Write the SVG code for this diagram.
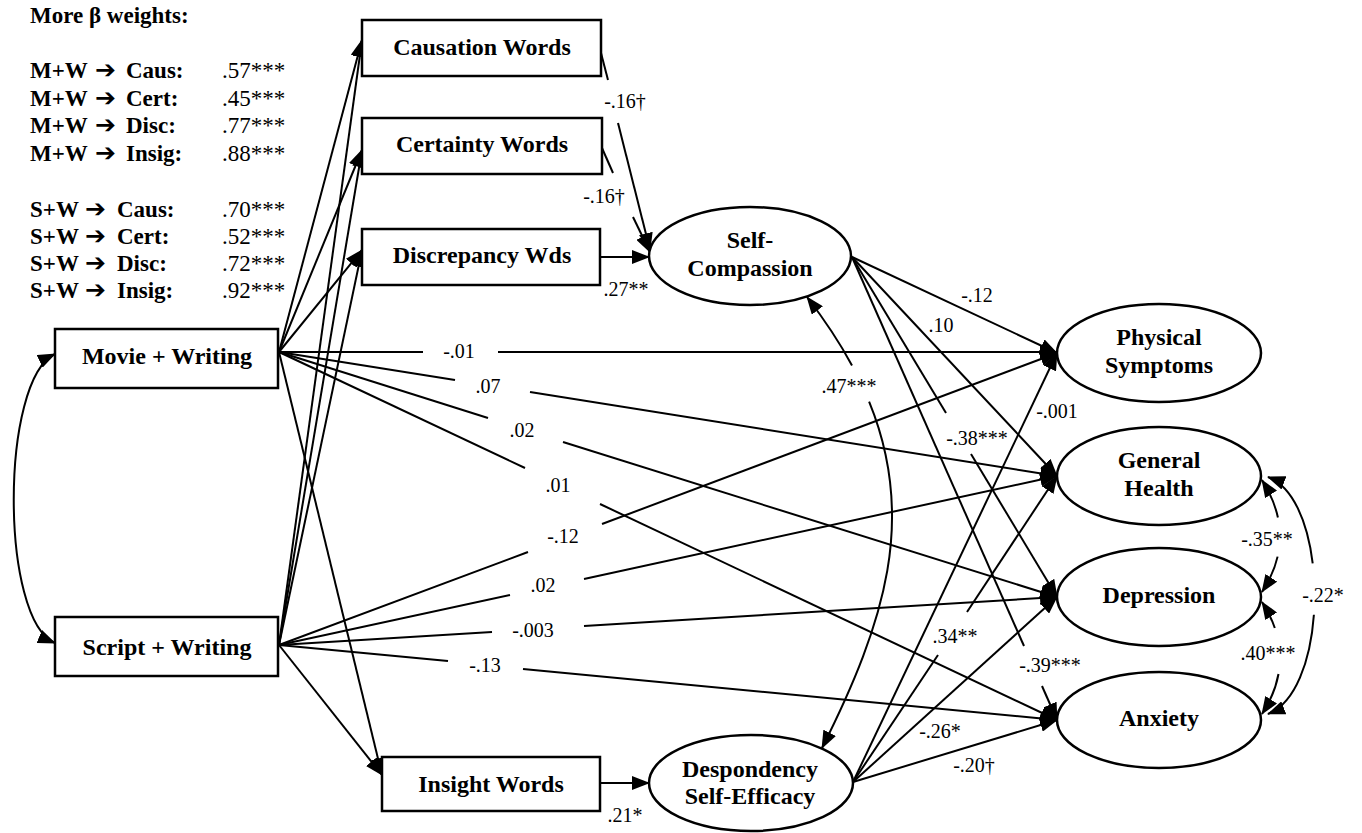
<svg xmlns="http://www.w3.org/2000/svg" width="1362" height="833" viewBox="0 0 1362 833">
<defs>
<marker id="ah" markerUnits="userSpaceOnUse" viewBox="0 0 18 14" markerWidth="18" markerHeight="14" refX="17" refY="7" orient="auto-start-reverse">
<path d="M0,0 L18,7 L0,14 z" fill="#000"/>
</marker>
<style>
.ln{fill:none;stroke:#000;stroke-width:2}
.arr{marker-end:url(#ah)}
.arrs{marker-start:url(#ah)}
.box{fill:#fff;stroke:#000;stroke-width:2.5}
.ell{fill:#fff;stroke:#000;stroke-width:2.5}
.nt{font-family:"Liberation Serif","Times New Roman",serif;font-weight:bold;font-size:24px;text-anchor:middle;fill:#000}
.cf{font-family:"Liberation Serif","Times New Roman",serif;font-size:20px;text-anchor:middle;fill:#000}
.bt{font-family:"Liberation Serif","Times New Roman",serif;font-weight:bold;font-size:23px;fill:#000}
.bv{font-family:"Liberation Serif","Times New Roman",serif;font-size:23px;fill:#000}
.ar{font-family:"DejaVu Sans",sans-serif;font-size:25px;font-weight:bold}
</style>
</defs>
<rect width="1362" height="833" fill="#fff"/>

<g id="beta-weights">
<text class="bt" x="30" y="23">More β weights:</text>
<text class="bt" y="78"><tspan x="30">M+W</tspan><tspan class="ar" x="95">➔</tspan><tspan x="126">Caus:</tspan></text>
<text class="bv" x="222" y="78">.57***</text>
<text class="bt" y="106"><tspan x="30">M+W</tspan><tspan class="ar" x="95">➔</tspan><tspan x="126">Cert:</tspan></text>
<text class="bv" x="222" y="106">.45***</text>
<text class="bt" y="133"><tspan x="30">M+W</tspan><tspan class="ar" x="95">➔</tspan><tspan x="126">Disc:</tspan></text>
<text class="bv" x="222" y="133">.77***</text>
<text class="bt" y="161"><tspan x="30">M+W</tspan><tspan class="ar" x="95">➔</tspan><tspan x="126">Insig:</tspan></text>
<text class="bv" x="222" y="161">.88***</text>
<text class="bt" y="217"><tspan x="30">S+W</tspan><tspan class="ar" x="85">➔</tspan><tspan x="117">Caus:</tspan></text>
<text class="bv" x="222" y="217">.70***</text>
<text class="bt" y="244"><tspan x="30">S+W</tspan><tspan class="ar" x="85">➔</tspan><tspan x="117">Cert:</tspan></text>
<text class="bv" x="222" y="244">.52***</text>
<text class="bt" y="271"><tspan x="30">S+W</tspan><tspan class="ar" x="85">➔</tspan><tspan x="117">Disc:</tspan></text>
<text class="bv" x="222" y="271">.72***</text>
<text class="bt" y="298"><tspan x="30">S+W</tspan><tspan class="ar" x="85">➔</tspan><tspan x="117">Insig:</tspan></text>
<text class="bv" x="222" y="298">.92***</text>
</g>

<g id="connectors">
<path class="ln arr" d="M279,352 L362,40"/>
<path class="ln arr" d="M279,352 L362,150"/>
<path class="ln arr" d="M279,352 L362,250"/>
<path class="ln arr" d="M279,352 L382,775"/>
<path class="ln" d="M279,352 L423,352"/><path class="ln arr" d="M498,352 L1057,352"/>
<path class="ln" d="M279,352 L455,380"/><path class="ln arr" d="M530,392 L1057,476"/>
<path class="ln" d="M279,352 L488,418"/><path class="ln arr" d="M563,442 L1057,597"/>
<path class="ln" d="M279,352 L525,468"/><path class="ln arr" d="M600,504 L1057,720"/>

<path class="ln arr" d="M279,645 L362,40"/>
<path class="ln arr" d="M279,645 L362,150"/>
<path class="ln arr" d="M279,645 L362,250"/>
<path class="ln arr" d="M279,645 L382,775"/>
<path class="ln" d="M279,645 L528,552"/><path class="ln arr" d="M602,524 L1057,353"/>
<path class="ln" d="M279,645 L510,595"/><path class="ln arr" d="M584,579 L1057,476"/>
<path class="ln" d="M279,645 L492,632"/><path class="ln arr" d="M584,626 L1057,597"/>
<path class="ln" d="M279,645 L448,661"/><path class="ln arr" d="M523,669 L1057,720"/>

<path class="ln" d="M601,53 L608,80"/><path class="ln arr" d="M618,123 L650,250"/>
<path class="ln" d="M602,148 L613,173"/><path class="ln arr" d="M633,217 L650,252"/>
<path class="ln arr" d="M600,257 L649,257"/>
<path class="ln arr" d="M600,783 L649,783"/>

<path class="ln arr" d="M852,257 L1057,353"/>
<path class="ln arr" d="M852,257 L1057,476"/>
<path class="ln" d="M852,257 L946,413"/><path class="ln arr" d="M971,454 L1057,597"/>
<path class="ln" d="M852,257 L1024,646"/><path class="ln arr" d="M1042,686 L1057,720"/>

<path class="ln arr" d="M853,782 L1057,353"/>
<path class="ln" d="M853,782 L938,655"/><path class="ln arr" d="M967,612 L1057,476"/>
<path class="ln arr" d="M853,782 L1057,597"/>
<path class="ln arr" d="M853,782 L1057,720"/>

<path class="ln arrs" d="M807,297 C825.1,320.5 840,343.2 852,365.4"/>
<path class="ln arr" d="M869.1,401.7 C916.7,517.6 885.6,621.7 822,748"/>

<path class="ln arrs arr" d="M55,354 C0,380 0,620 55,643"/>

<path class="ln arrs" d="M1262,480 Q1273.9,498.8 1277.9,517.5"/>
<path class="ln arr" d="M1277.6,556.6 Q1273.5,574.4 1262,592"/>
<path class="ln arrs" d="M1262,602 Q1270.4,615 1274.8,628"/>
<path class="ln arr" d="M1278.5,674 Q1274.9,694 1262,714"/>
<path class="ln arrs" d="M1268,477 C1292.8,486.2 1307.7,522.1 1312.7,563.4"/>
<path class="ln arr" d="M1313.9,614.7 C1310.6,660.7 1295.3,703.4 1268,714"/>
</g>

<g id="edge-labels">
<text class="cf" x="625" y="108">-.16†</text>
<text class="cf" x="604" y="203">-.16†</text>
<text class="cf" x="626" y="296">.27**</text>
<text class="cf" x="459" y="358">-.01</text>
<text class="cf" x="488" y="393">.07</text>
<text class="cf" x="522" y="437">.02</text>
<text class="cf" x="558" y="492">.01</text>
<text class="cf" x="563" y="543">-.12</text>
<text class="cf" x="543" y="592">.02</text>
<text class="cf" x="533" y="637">-.003</text>
<text class="cf" x="485" y="672">-.13</text>
<text class="cf" x="849" y="393">.47***</text>
<text class="cf" x="977" y="302">-.12</text>
<text class="cf" x="941" y="332">.10</text>
<text class="cf" x="977" y="445">-.38***</text>
<text class="cf" x="1050" y="672">-.39***</text>
<text class="cf" x="1057" y="418">-.001</text>
<text class="cf" x="955" y="643">.34**</text>
<text class="cf" x="940" y="738">-.26*</text>
<text class="cf" x="974" y="772">-.20†</text>
<text class="cf" x="625" y="822">.21*</text>
<text class="cf" x="1267" y="546">-.35**</text>
<text class="cf" x="1268" y="660">.40***</text>
<text class="cf" x="1323" y="602">-.22*</text>
</g>

<g id="causation-words"><rect class="box" x="362" y="20" width="239" height="56"/><text class="nt" x="482" y="55">Causation Words</text></g>
<g id="certainty-words"><rect class="box" x="362" y="118" width="240" height="56"/><text class="nt" x="482" y="152">Certainty Words</text></g>
<g id="discrepancy-words"><rect class="box" x="362" y="229" width="238" height="56"/><text class="nt" x="482" y="263">Discrepancy Wds</text></g>
<g id="movie-writing"><rect class="box" x="55" y="329" width="223" height="59"/><text class="nt" x="167" y="364">Movie + Writing</text></g>
<g id="script-writing"><rect class="box" x="55" y="617" width="223" height="59"/><text class="nt" x="167" y="655">Script + Writing</text></g>
<g id="insight-words"><rect class="box" x="382" y="757" width="218" height="54"/><text class="nt" x="491" y="792">Insight Words</text></g>

<g id="self-compassion"><ellipse class="ell" cx="750" cy="256" rx="101" ry="49"/><text class="nt" x="750" y="248">Self-</text><text class="nt" x="750" y="276">Compassion</text></g>
<g id="despondency-self-efficacy"><ellipse class="ell" cx="751" cy="783" rx="102" ry="48"/><text class="nt" x="750" y="777">Despondency</text><text class="nt" x="750" y="804">Self-Efficacy</text></g>
<g id="physical-symptoms"><ellipse class="ell" cx="1159" cy="353" rx="102" ry="49"/><text class="nt" x="1159" y="345">Physical</text><text class="nt" x="1159" y="373">Symptoms</text></g>
<g id="general-health"><ellipse class="ell" cx="1159" cy="476" rx="102" ry="49"/><text class="nt" x="1159" y="468">General</text><text class="nt" x="1159" y="496">Health</text></g>
<g id="depression"><ellipse class="ell" cx="1159" cy="597" rx="102" ry="49"/><text class="nt" x="1159" y="603">Depression</text></g>
<g id="anxiety"><ellipse class="ell" cx="1159" cy="720" rx="102" ry="48"/><text class="nt" x="1159" y="726">Anxiety</text></g>
</svg>
